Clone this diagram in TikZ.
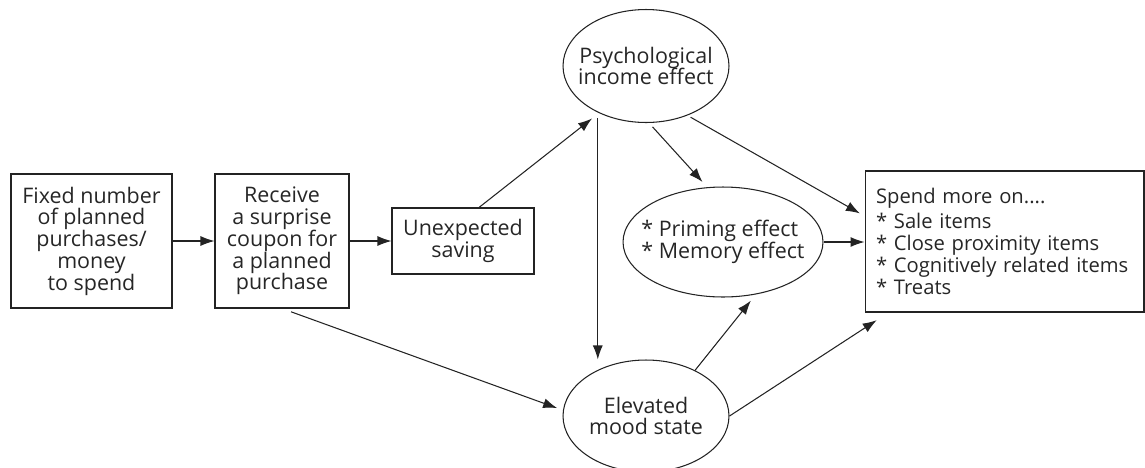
\documentclass[tikz,border=0pt]{standalone}
\usepackage{fontspec}
\setmainfont{Open Sans}
\usepackage{tikz}
\usetikzlibrary{calc,positioning,shapes.geometric}
\usetikzlibrary{arrows.meta}
\tikzset{>={Latex[width=2mm,length=2.8mm]}}
\definecolor{line_gray}{RGB}{35,35,35}

\begin{document}
\begin{tikzpicture}[
		x=0.02cm, y=-0.02cm,
		every node/.style={font=\fontsize{12.2}{12.4}\selectfont, text=black!85},
		box/.style={draw=line_gray, line width=0.6pt, align=center, inner sep=0pt},
		oval/.style={draw=line_gray, line width=0.6pt, ellipse, align=center, inner sep=0pt, inner xsep=-24pt},
		link/.style={->, draw=line_gray, line width=0.6pt},
	]
	\useasboundingbox (0,0) rectangle (1145,467);

	% Draw boxes
	\node[box, name=fixed, minimum width=3.22cm, minimum height=2.68cm] at (91.5,241)
	{Fixed number\\of planned\\purchases/\\money\\to spend};
	\node[box, name=receive, minimum width=2.68cm, minimum height=2.68cm] at (282,241)
	{Receive\\a surprise\\coupon for\\a planned\\purchase};
	\node[box, name=saving, minimum width=2.84cm, minimum height=1.32cm] at (463,241)
	{Unexpected\\saving};
	\node[box, name=spend-more, minimum width=5.58cm, minimum height=2.82cm, text width=5.14cm, inner xsep=0.22cm, align=left,
		font=\fontsize{11.5}{12.6}\selectfont] at (1004.5,241.5)
	{Spend more on....\\[1.5pt]{}* Sale items\\{}* Close proximity items\\{}* Cognitively related items\\{}* Treats};

	% Draw ellipses
	\node[oval, name=psych-income, minimum width=3.32cm, minimum height=2.26cm] at (646,66)
	{Psychological\\income effect};
	\node[oval, name=priming, minimum width=4.0cm, minimum height=2.2cm, align=left] at (723,242)
	{* Priming effect\\{}* Memory effect};
	\node[oval, name=mood, minimum width=3.32cm, minimum height=2.24cm] at (646,416)
	{Elevated\\mood state};

	% Connectors
	\draw[link] (fixed.east) -- (receive.west);
	\draw[link] (receive.east) -- (saving.west);
	\draw[link, shorten >=5pt] ([xshift=0.32cm]saving.north) -- (psych-income.225);
	\draw[link, shorten <=3pt] (psych-income.224) -- (psych-income.224 |- mood.north);
	\draw[link, shorten <=3pt, shorten >=4pt] (psych-income.273) -- (priming.106);
	\draw[link, shorten <=2pt, shorten >=3pt] (psych-income.310) -- ([yshift=0.51cm]spend-more.west);
	\draw[link] (priming.east) -- (priming.east -| spend-more.west);
	\draw[link, shorten <=5.5pt, shorten >=3.5pt] (receive.south) -- (mood.176);
	\draw[link, shorten >=4.5pt] (mood.43) -- (priming.302);
	\draw[link, shorten >=8pt] (mood.east) -- ([xshift=0.48cm]spend-more.south west);

\end{tikzpicture}
\end{document}
